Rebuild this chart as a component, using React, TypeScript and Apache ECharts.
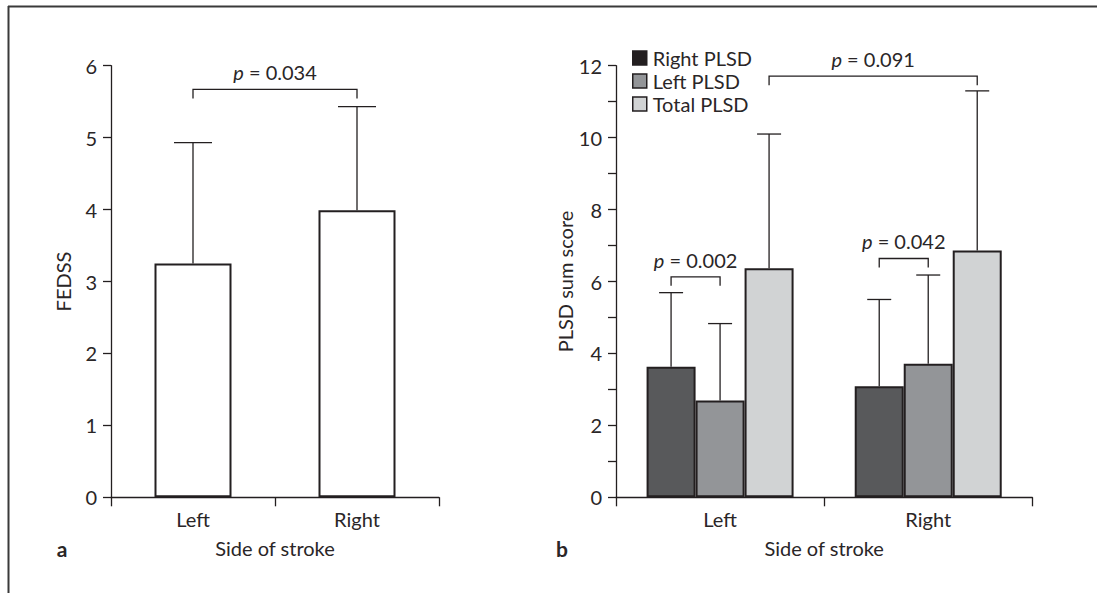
import React, { useEffect, useRef } from "react";
import * as echarts from "echarts";

const categories = ["Left", "Right"];

// Panel a: FEDSS
const fedssMean = [3.25, 3.99];
const fedssUpper = [4.93, 5.43];

// Panel b: PLSD sum score
const seriesNames = ["Right PLSD", "Left PLSD", "Total PLSD"];
const rightPlsdMean = [3.63, 3.09];
const rightPlsdUpper = [5.69, 5.5];
const leftPlsdMean = [2.69, 3.71];
const leftPlsdUpper = [4.83, 6.18];
const totalPlsdMean = [6.37, 6.86];
const totalPlsdUpper = [10.1, 11.3];

// Significance brackets: [fromCategory, fromSlot, toCategory, toSlot, level]
const bracketsA = [[0, 0, 1, 0, 5.67]];
const pLabelsA = ["0.034"];
const bracketsB = [
  [0, 0, 0, 1, 6.13],
  [1, 0, 1, 1, 6.64],
  [0, 2, 1, 2, 11.71],
];
const pLabelsB = ["0.002", "0.042", "0.091"];

const FONT = "Lato";
const TXT = "#2a2627";
const INK = "#231f20";
const FS = 20;

export default function App() {
  const ref = useRef<HTMLDivElement>(null);
  useEffect(() => {
    document.body.style.margin = "0";
    const chart = echarts.init(ref.current!, undefined, { renderer: "svg" });

    const errSeries = (
      name: string,
      xi: number,
      mean: number[],
      upper: number[],
      offset: number,
      capHalf: number
    ) => ({
      type: "custom",
      name,
      xAxisIndex: xi,
      yAxisIndex: xi,
      z: 3,
      silent: true,
      data: mean.map((m, i) => [i, m, upper[i]]),
      encode: { x: 0, y: [1, 2] },
      renderItem: (params: any, api: any) => {
        const c = api.value(0);
        const p0 = api.coord([c, api.value(1)]);
        const p1 = api.coord([c, api.value(2)]);
        const x = p0[0] + offset;
        const st = { stroke: INK, lineWidth: 1.3 };
        return {
          type: "group",
          children: [
            { type: "line", shape: { x1: x, y1: p0[1], x2: x, y2: p1[1] }, style: st },
            { type: "line", shape: { x1: x - capHalf, y1: p1[1], x2: x + capHalf, y2: p1[1] }, style: st },
          ],
        };
      },
    });

    const bracketSeries = (xi: number, data: number[][], labels: string[], slotW: number) => ({
      type: "custom",
      xAxisIndex: xi,
      yAxisIndex: xi,
      z: 4,
      silent: true,
      data,
      encode: { x: 0, y: 4 },
      renderItem: (params: any, api: any) => {
        const a = api.coord([api.value(0), api.value(4)]);
        const b = api.coord([api.value(2), api.value(4)]);
        const x1 = a[0] + (api.value(1) - 1) * slotW;
        const x2 = b[0] + (api.value(3) - 1) * slotW;
        const y = a[1];
        const drop = 9;
        return {
          type: "group",
          children: [
            {
              type: "polyline",
              shape: { points: [[x1, y + drop], [x1, y], [x2, y], [x2, y + drop]] },
              style: { stroke: INK, lineWidth: 1.3, fill: null },
            },
            {
              type: "text",
              style: {
                text: "{i|p} = " + labels[params.dataIndex],
                x: (x1 + x2) / 2,
                y: y - 17,
                align: "center",
                verticalAlign: "middle",
                fontSize: FS,
                fontFamily: FONT,
                fill: TXT,
                rich: { i: { fontStyle: "italic", fontSize: FS, fontFamily: FONT, fill: TXT } },
              },
            },
          ],
        };
      },
    });

    const axisX = (gi: number) => ({
      type: "category",
      gridIndex: gi,
      data: categories,
      name: "Side of stroke",
      nameLocation: "middle",
      nameGap: 41,
      nameTextStyle: { fontSize: FS, fontFamily: FONT, color: TXT },
      axisLine: { lineStyle: { color: INK, width: 1.3 } },
      axisTick: { show: true, length: 9, lineStyle: { color: INK, width: 1.3 } },
      axisLabel: { fontSize: FS, fontFamily: FONT, color: TXT, margin: 12 },
    });

    const axisY = (gi: number, name: string, max: number, gap: number, evenOnly: boolean) => ({
      type: "value",
      gridIndex: gi,
      min: 0,
      max,
      interval: 1,
      name,
      nameLocation: "middle",
      nameGap: gap,
      nameTextStyle: { fontSize: FS, fontFamily: FONT, color: TXT },
      splitLine: { show: false },
      axisLine: { show: true, lineStyle: { color: INK, width: 1.3 } },
      axisTick: { show: true, length: 8, lineStyle: { color: INK, width: 1.3 } },
      axisLabel: {
        fontSize: FS,
        fontFamily: FONT,
        color: TXT,
        margin: 14,
        formatter: (v: number) => (evenOnly && v % 2 !== 0 ? "" : String(v)),
      },
    });

    const barW = 49;
    const fills = ["#58595b", "#939598", "#d1d3d4"];
    const means = [rightPlsdMean, leftPlsdMean, totalPlsdMean];
    const uppers = [rightPlsdUpper, leftPlsdUpper, totalPlsdUpper];

    chart.setOption({
      animation: false,
      textStyle: { fontFamily: FONT },
      grid: [
        { left: 111, top: 65.7, width: 328, height: 431.6 },
        { left: 616, top: 65.7, width: 416.3, height: 431.6 },
      ],
      xAxis: [axisX(0), axisX(1)],
      yAxis: [axisY(0, "FEDSS", 6, 38, false), axisY(1, "PLSD sum score", 12, 41, true)],
      legend: {
        orient: "vertical",
        left: 627,
        top: 43,
        itemWidth: 14,
        itemHeight: 14,
        itemGap: 3,
        selectedMode: false,
        icon: "rect",
        textStyle: { fontSize: FS, fontFamily: FONT, color: TXT, padding: [0, 0, 0, 1] },
        data: [
          { name: seriesNames[0], itemStyle: { color: "#231f20", borderColor: INK, borderWidth: 1.5 } },
          { name: seriesNames[1], itemStyle: { color: fills[1], borderColor: INK, borderWidth: 1.5 } },
          { name: seriesNames[2], itemStyle: { color: fills[2], borderColor: INK, borderWidth: 1.5 } },
        ],
      },
      graphic: [
        { type: "line", shape: { x1: 8, y1: 6.5, x2: 1097, y2: 6.5 }, style: { stroke: "#3a3a3a", lineWidth: 2 } },
        { type: "line", shape: { x1: 8.5, y1: 6, x2: 8.5, y2: 593 }, style: { stroke: "#3a3a3a", lineWidth: 2 } },
        {
          type: "text",
          x: 62,
          y: 548,
          style: { text: "a", fontSize: 21, fontWeight: "bold", fontFamily: FONT, fill: TXT, align: "center", verticalAlign: "middle" },
        },
        {
          type: "text",
          x: 562,
          y: 548,
          style: { text: "b", fontSize: 21, fontWeight: "bold", fontFamily: FONT, fill: TXT, align: "center", verticalAlign: "middle" },
        },
      ],
      series: [
        {
          type: "bar",
          name: "FEDSS",
          xAxisIndex: 0,
          yAxisIndex: 0,
          data: fedssMean,
          barWidth: 77,
          itemStyle: { color: "#ffffff", borderColor: INK, borderWidth: 2 },
          silent: true,
        },
        errSeries("FEDSS err", 0, fedssMean, fedssUpper, 0, 19),
        ...seriesNames.map((n, k) => ({
          type: "bar",
          name: n,
          xAxisIndex: 1,
          yAxisIndex: 1,
          data: means[k],
          barWidth: barW,
          barGap: "0%",
          itemStyle: { color: fills[k], borderColor: INK, borderWidth: 2 },
          silent: true,
        })),
        ...seriesNames.map((n, k) => errSeries(n + " err", 1, means[k], uppers[k], (k - 1) * barW, 12)),
        bracketSeries(0, bracketsA, pLabelsA, 0),
        bracketSeries(1, bracketsB, pLabelsB, barW),
      ],
    });
    return () => chart.dispose();
  }, []);
  return <div ref={ref} style={{ width: 1097, height: 593 }} />;
}
